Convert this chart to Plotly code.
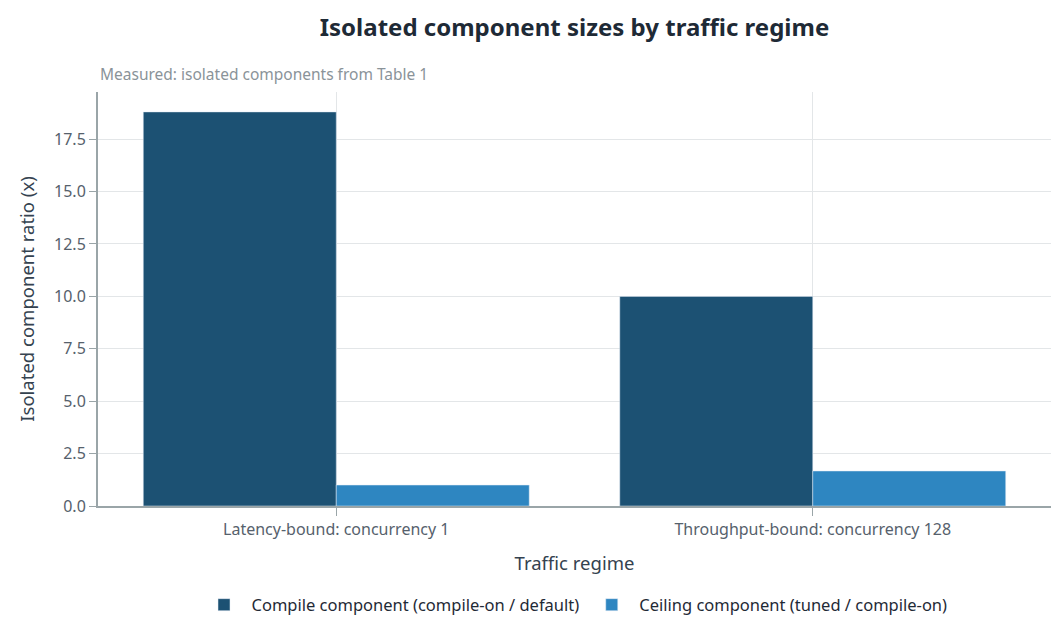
import plotly.graph_objects as go

REGIMES = ["Latency-bound: concurrency 1", "Throughput-bound: concurrency 128"]
COMPILE_RATIO = [18.8, 10.0]
CEILING_RATIO = [1.0, 1.67]

COLORS = {
    "compile": "#1c5173",
    "ceiling": "#2e86c1",
    "axis": "#9aa5a8",
    "grid": "#e3e6e8",
    "tick": "#56616c",
    "title": "#1e2a36",
    "sub": "#8a9399",
}
FONT = "Noto Sans"

fig = go.Figure()
fig.add_trace(go.Bar(
    x=REGIMES, y=COMPILE_RATIO,
    name="Compile component (compile-on / default)",
    marker_color=COLORS["compile"],
))
fig.add_trace(go.Bar(
    x=REGIMES, y=CEILING_RATIO,
    name="Ceiling component (tuned / compile-on)",
    marker_color=COLORS["ceiling"],
))

fig.add_annotation(
    text="Measured: isolated components from Table 1",
    xref="paper", yref="paper", x=0, y=1.0435,
    xanchor="left", yanchor="middle", showarrow=False,
    font=dict(size=15.5, color=COLORS["sub"]),
)

# page body adds 8px margin, so the figure is 16px smaller than the window
fig.update_layout(
    width=1048, height=625,
    barmode="group", bargap=0.19, bargroupgap=0,
    paper_bgcolor="white", plot_bgcolor="white",
    font=dict(family=FONT, color=COLORS["tick"], size=16),
    margin=dict(l=90, r=5, t=84, b=127),
    title=dict(
        text="<b>Isolated component sizes by traffic regime</b>",
        x=0.5, xref="paper", xanchor="center", y=0.968, yanchor="middle",
        font=dict(size=24, color=COLORS["title"], family=FONT),
    ),
    xaxis=dict(
        title=dict(text="Traffic regime", font=dict(size=18.5, color="#34424f"), standoff=18),
        automargin=False,
        showgrid=True, gridcolor=COLORS["grid"],
        showline=True, linecolor=COLORS["axis"], linewidth=2,
        ticks="outside", tickcolor=COLORS["axis"], ticklen=8,
        tickfont=dict(size=16, color=COLORS["tick"]),
    ),
    yaxis=dict(
        title=dict(text="Isolated component ratio (x)", font=dict(size=18.5, color="#34424f"), standoff=15),
        automargin=False,
        range=[0, 19.75], dtick=2.5, tickformat=".1f",
        showgrid=True, gridcolor=COLORS["grid"], zeroline=False,
        showline=True, linecolor=COLORS["axis"], linewidth=2,
        ticks="outside", tickcolor=COLORS["axis"], ticklen=7,
        tickfont=dict(size=16, color=COLORS["tick"]),
    ),
    legend=dict(
        orientation="h", x=0.5, xanchor="center", y=-0.239, yanchor="middle",
        itemwidth=45,
        font=dict(size=16.5, color="#1f2a36"),
    ),
)

fig.write_html("out.html")
